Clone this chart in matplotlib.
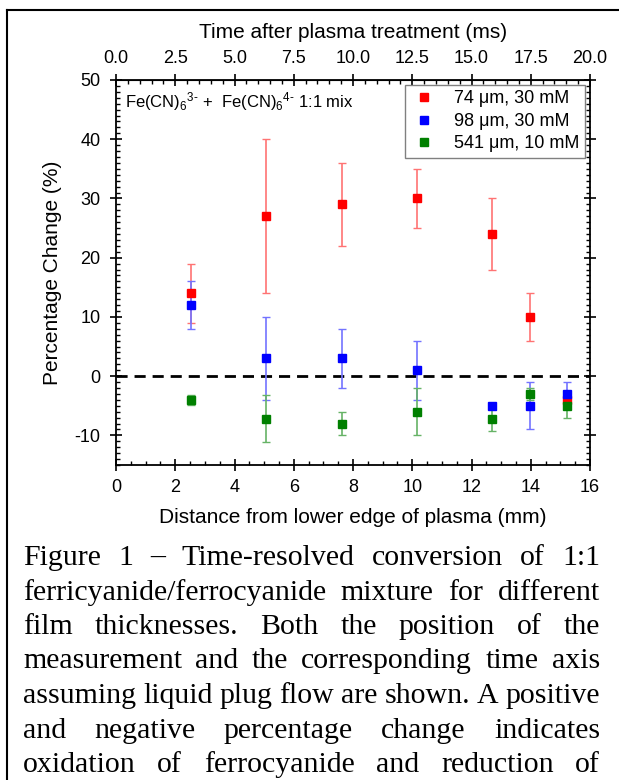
import numpy as np
import matplotlib.pyplot as plt
from matplotlib.lines import Line2D
from matplotlib.ticker import MultipleLocator

plt.rcParams['font.family'] = ['Liberation Sans', 'DejaVu Sans']
plt.rcParams['mathtext.fontset'] = 'custom'
plt.rcParams['mathtext.rm'] = 'Liberation Sans'
plt.rcParams['mathtext.it'] = 'Liberation Sans'
plt.rcParams['axes.unicode_minus'] = False

# datos
dist = [2.54, 5.08, 7.62, 10.16, 12.70, 13.97, 15.24]

red_y = [14, 27, 29, 30, 24, 10, -4]
red_e = [5, 13, 7, 5, 6, 4, 1]

blue_y = [12, 3, 3, 1, -5, -5, -3]
blue_e = [4, 7, 5, 5, 0.5, 4, 2]

green_y = [-4, -7.2, -8, -6, -7.2, -3, -5]
green_e = [0.8, 4, 2, 4, 2, 1, 2]

labels = ['74 \u03bcm, 30 mM', '98 \u03bcm, 30 mM', '541 \u03bcm, 10 mM']

caption = [
    "Figure 1 \u2013 Time-resolved conversion of 1:1",
    "ferricyanide/ferrocyanide mixture for different",
    "film thicknesses. Both the position of the",
    "measurement and the corresponding time axis",
    "assuming liquid plug flow are shown. A positive",
    "and negative percentage change indicates",
    "oxidation of ferrocyanide and reduction of",
]

W, H = 619, 780
fig = plt.figure(figsize=(W/100, H/100), dpi=100)
ax = fig.add_axes([116/W, 1-465/H, 474/W, 385/H])

series = [(red_y, red_e, 'red', (1, 0.45, 0.45)),
          (blue_y, blue_e, 'blue', (0.45, 0.45, 1)),
          (green_y, green_e, 'green', (0.4, 0.7, 0.4))]
handles = []
for (yy, ee, c, ec), lab in zip(series, labels):
    ax.errorbar(dist, yy, yerr=ee, fmt='s', color=c, ecolor=ec, elinewidth=1.2,
                capsize=3, capthick=1, markersize=6, zorder=3)
    handles.append(Line2D([], [], ls='none', marker='s', color=c,
                          markersize=5.5, label=lab))

ax.axhline(0, color='black', lw=2, ls=(0, (4, 2.5)), zorder=2)

ax.set_xlim(0, 16)
ax.set_ylim(-15, 50)
ax.xaxis.set_major_locator(MultipleLocator(2))
ax.xaxis.set_minor_locator(MultipleLocator(0.5))
ax.yaxis.set_major_locator(MultipleLocator(10))
ax.yaxis.set_minor_locator(MultipleLocator(1))
ax.tick_params(which='major', direction='inout', length=8, width=1.2,
               labelsize=13, right=True)
ax.tick_params(which='minor', direction='in', length=3, width=1, right=True)
ax.tick_params(axis='x', which='both', top=False, pad=6)
ax.tick_params(axis='y', which='major', pad=7)
for s in ax.spines.values():
    s.set_linewidth(1.3)

ax.set_xlabel('Distance from lower edge of plasma (mm)', fontsize=15, labelpad=9)
ax.set_ylabel('Percentage Change (%)', fontsize=15, labelpad=9)

sec = ax.secondary_xaxis('top', functions=(lambda x: x*1.25, lambda t: t/1.25))
sec.xaxis.set_major_locator(MultipleLocator(2.5))
sec.xaxis.set_minor_locator(MultipleLocator(0.5))
sec.xaxis.set_major_formatter(plt.FormatStrFormatter('%.1f'))
sec.tick_params(which='major', direction='inout', length=8, width=1.2,
                labelsize=13, pad=5)
sec.tick_params(which='minor', direction='in', length=3, width=1)
sec.set_xlabel('Time after plasma treatment (ms)', fontsize=15, labelpad=9)

ax.text(0.019, 0.974,
        r'Fe(CN)$_6$$^{3\text{-}}$ +  Fe(CN)$_6$$^{4\text{-}}$ 1:1 mix',
        transform=ax.transAxes, fontsize=12, va='top', ha='left')

ax.legend(handles=handles, loc='upper right', bbox_to_anchor=(0.9895, 0.987),
          borderaxespad=0, fontsize=13, fancybox=False, edgecolor='gray',
          framealpha=1, handletextpad=1.0, borderpad=0.3, labelspacing=0.3,
          handlelength=1.4)

# borde de la pagina
fig.add_artist(Line2D([7/W, 7/W], [0, 1-10/H], color='black', lw=1.5))
fig.add_artist(Line2D([7/W, 1], [1-10/H, 1-10/H], color='black', lw=1.5))

# pie de figura justificado
r = fig.canvas.get_renderer()
x0, x1 = 23, 600
base = 565
for i, line in enumerate(caption):
    words = line.split()
    ts = [fig.text(0, 0, w, fontsize=21.5, family='Liberation Serif',
                   va='baseline', ha='left') for w in words]
    ws = [t.get_window_extent(r).width for t in ts]
    gap = (x1 - x0 - sum(ws)) / (len(words) - 1)
    xp = x0
    y = base + i*34.5
    for t, w in zip(ts, ws):
        t.set_position((xp/W, 1 - y/H))
        xp += w + gap

fig.savefig('out.png', dpi=100)
